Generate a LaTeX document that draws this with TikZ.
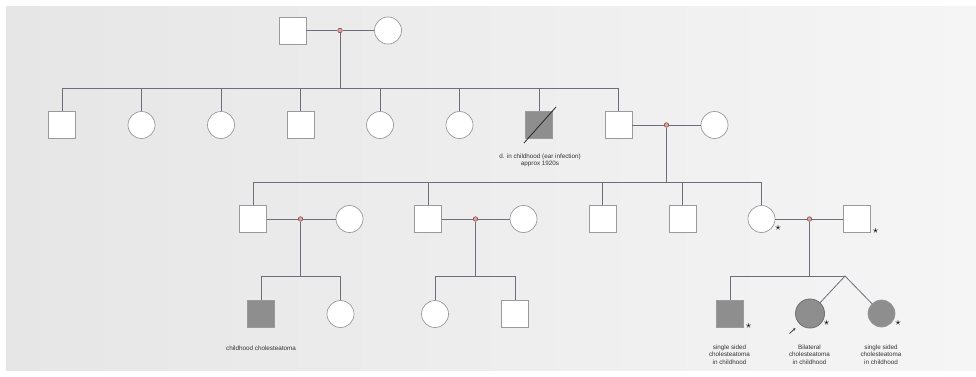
\documentclass[tikz,border=0pt]{standalone}
\usepackage{fontspec}
\setmainfont{Liberation Sans}
\usetikzlibrary{arrows.meta}
\definecolor{bgleft}{HTML}{E6E6E6}
\definecolor{bgright}{HTML}{F5F5F5}
\definecolor{linec}{HTML}{6F6C7C}
\definecolor{shapec}{HTML}{9A9A9A}
\definecolor{affc}{HTML}{8E8E8E}
\definecolor{dotc}{HTML}{8A4A48}
\definecolor{dotfill}{HTML}{D9A9A4}
\begin{document}
\begin{tikzpicture}[x=1pt,y=-1pt,
  male/.style={draw=shapec,fill=white,line width=0.7pt,minimum size=27pt,inner sep=0pt,rectangle},
  female/.style={draw=shapec,fill=white,line width=0.7pt,minimum size=27pt,inner sep=0pt,circle},
  affected/.style={fill=affc},
  mdot/.style={circle,draw=dotc,fill=dotfill,line width=0.6pt,minimum size=4.5pt,inner sep=0pt},
  kin/.style={draw=linec,line width=0.8pt},
  lbl/.style={font=\fontsize{6.3}{7.6}\selectfont,align=center,text=black!80,inner sep=0pt},
  star/.style={font=\fontsize{11}{11}\selectfont,inner sep=0pt}
]
% canvas
\useasboundingbox (0,0) rectangle (976,376);
\fill[white] (0,0) rectangle (976,376);
\shade[left color=bgleft,right color=bgright] (6,6) rectangle (976,370);

% generation I
\node[male]   (g1m) at (292.5,30.5) {};
\node[female] (g1f) at (388,30.5) {};
\node[mdot]   (d1)  at (340,30.5) {};
\draw[kin] (g1m) -- (d1) -- (g1f);

% generation II
\node[male]   (a1) at (62,125) {};
\node[female] (a2) at (141.5,125) {};
\node[female] (a3) at (221,125) {};
\node[male]   (a4) at (300.5,125) {};
\node[female] (a5) at (380,125) {};
\node[female] (a6) at (459.5,125) {};
\node[male,affected] (a7) at (539,125) {};
\node[male]   (a8) at (618.5,125) {};
\node[female] (a8w) at (714.5,125) {};
\node[mdot]   (d2) at (666.5,125) {};
\coordinate (s1) at (340,88);
\draw[kin] (d1) -- (s1);
\draw[kin] (a1.north) |- (a8.north |- s1) -- (a8.north);
\foreach \c in {a2,a3,a4,a5,a6,a7} \draw[kin] (\c.north) -- (\c.north |- s1);
\draw[kin] (a8) -- (d2) -- (a8w);
% deceased mark
\coordinate (x1) at (524,143);
\coordinate (x2) at (556,107);
\draw[black!85,line width=0.8pt] (x1) -- (x2);
\node[lbl] (a7l) at (540,160.5) {d. in childhood (ear infection)\\approx 1920s};

% generation III
\node[male]   (b1)  at (253,219) {};
\node[female] (b1w) at (349.5,219) {};
\node[mdot]   (d3)  at (300.5,219) {};
\node[male]   (b2)  at (428,219) {};
\node[female] (b2w) at (523.5,219) {};
\node[mdot]   (d4)  at (475.5,219) {};
\node[male]   (b3)  at (602.5,219) {};
\node[male]   (b4)  at (682.5,219) {};
\node[female] (b5)  at (761.5,219) {};
\node[male]   (b5h) at (857,219) {};
\node[mdot]   (d5)  at (809.5,219) {};
\coordinate (s2) at (666.5,182);
\draw[kin] (d2) -- (s2);
\draw[kin] (b1.north) |- (b5.north |- s2) -- (b5.north);
\foreach \c in {b2,b3,b4} \draw[kin] (\c.north) -- (\c.north |- s2);
\draw[kin] (b1) -- (d3) -- (b1w);
\draw[kin] (b2) -- (d4) -- (b2w);
\draw[kin] (b5) -- (d5) -- (b5h);
\node[star] (st1) at (778,228) {$\star$};
\node[star] (st2) at (875.5,231) {$\star$};

% generation IV
\node[male,affected] (c1) at (261,314) {};
\node[female]        (c2) at (340.5,314) {};
\node[female]        (c3) at (435,314) {};
\node[male]          (c4) at (515,314) {};
\node[male,affected] (c5) at (730,314) {};
\node[female,affected,minimum size=29pt,draw=black!55,line width=0.9pt] (c6) at (810,313.5) {};
\node[female,affected,draw=affc!90] (c7) at (881.5,313.5) {};
\coordinate (s3) at (300.5,276);
\coordinate (s4) at (475.5,276);
\coordinate (s5) at (809.5,276);
\coordinate (tw) at (845,276);
\draw[kin] (d3) -- (s3);
\draw[kin] (c1.north) |- (c2.north |- s3) -- (c2.north);
\draw[kin] (d4) -- (s4);
\draw[kin] (c3.north) |- (c4.north |- s4) -- (c4.north);
\draw[kin] (d5) -- (s5);
\draw[kin] (c5.north) |- (tw);
\draw[kin] (c6) -- (tw) -- (c7);

\node[star] (st3) at (748.5,326) {$\star$};
\node[star] (st4) at (826.5,322.5) {$\star$};
\node[star] (st5) at (898,322.5) {$\star$};
\coordinate (pa) at (789.5,333.5);
\coordinate (pb) at (795.5,328);
\draw[black!75,line width=0.8pt,-{Stealth[length=3pt,width=2.5pt]}] (pa) -- (pb);

\node[lbl] (c1l) at (261,348) {childhood cholesteatoma};
\node[lbl] (c5l) at (729.5,354.5) {single sided\\cholesteatoma\\in childhood};
\node[lbl] (c6l) at (809.5,354.5) {Bilateral\\cholesteatoma\\in childhood};
\node[lbl] (c7l) at (881,354.5) {single sided\\cholesteatoma\\in childhood};
\end{tikzpicture}
\end{document}
